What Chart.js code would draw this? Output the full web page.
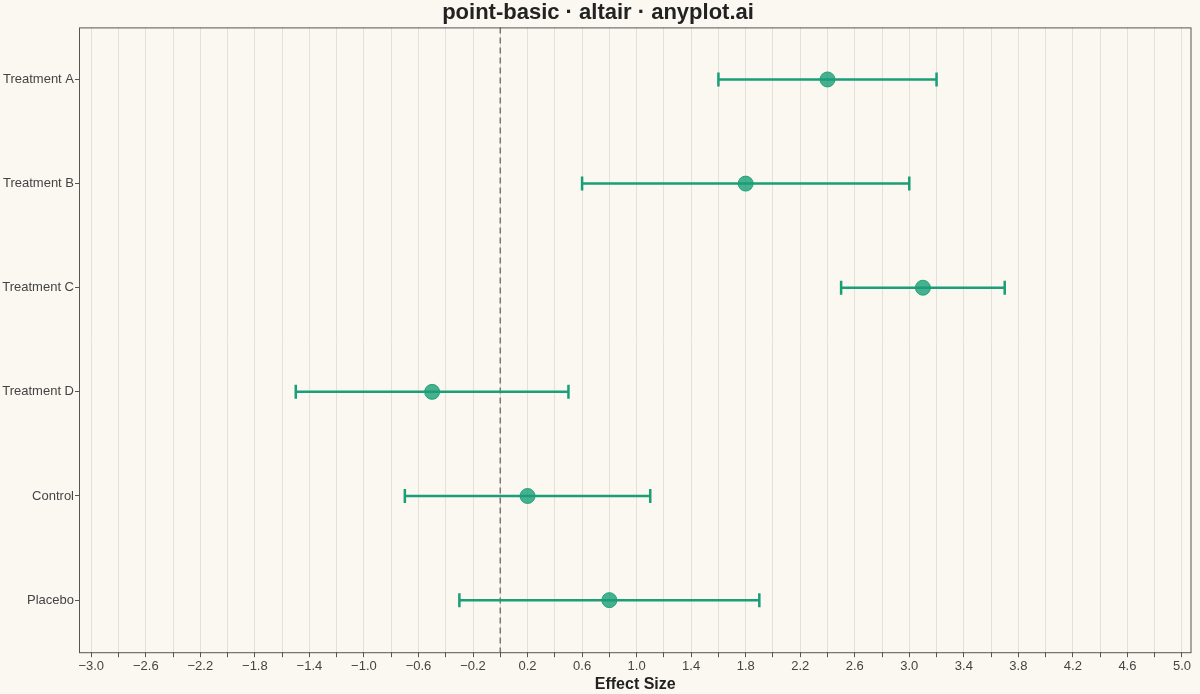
<!DOCTYPE html>
<html><head><meta charset="utf-8">
<script src="https://cdn.jsdelivr.net/npm/chart.js@4"></script>
<style>html,body{margin:0;padding:0;background:#FAF8F1;}#w{width:1200px;height:694px;}</style>
</head><body><div id="w"><canvas id="c"></canvas></div>
<script>
const categories = ["Treatment A","Treatment B","Treatment C","Treatment D","Control","Placebo"];
const effect = [2.4, 1.8, 3.1, -0.5, 0.2, 0.8];
const lower = [1.6, 0.6, 2.5, -1.5, -0.7, -0.3];
const upper = [3.2, 3.0, 3.7, 0.5, 1.1, 1.9];
const xTicks = [];
for (let i = 0; i <= 40; i++) xTicks.push(Math.round((-3 + i * 0.2) * 10) / 10);

const green = "#1a9e77";
const errPlugin = {
  id: "err",
  beforeDatasetsDraw(chart) {
    const {ctx, scales:{x, y}, chartArea:a} = chart;
    ctx.save();
    ctx.strokeStyle = "#777"; ctx.lineWidth = 1.5; ctx.setLineDash([6,4]);
    const zx = x.getPixelForValue(0);
    ctx.beginPath(); ctx.moveTo(zx, a.top); ctx.lineTo(zx, a.bottom); ctx.stroke();
    ctx.setLineDash([]);
    ctx.strokeStyle = green; ctx.lineWidth = 2.5;
    categories.forEach((c, i) => {
      const yy = y.getPixelForValue(i);
      const x1 = x.getPixelForValue(lower[i]), x2 = x.getPixelForValue(upper[i]);
      ctx.beginPath();
      ctx.moveTo(x1, yy); ctx.lineTo(x2, yy);
      ctx.moveTo(x1, yy-7); ctx.lineTo(x1, yy+7);
      ctx.moveTo(x2, yy-7); ctx.lineTo(x2, yy+7);
      ctx.stroke();
    });
    ctx.restore();
  },
  afterDraw(chart) {
    const {ctx, chartArea:a} = chart;
    ctx.save(); ctx.strokeStyle = "#555"; ctx.lineWidth = 1;
    ctx.strokeRect(a.left+0.5, a.top+0.5, a.right-a.left-1, a.bottom-a.top);
    ctx.restore();
  }
};

new Chart(document.getElementById("c"), {
  type: "scatter",
  data: { datasets: [{
    data: effect.map((v, i) => ({x: v, y: i})),
    backgroundColor: "rgba(26,158,119,0.8)",
    borderColor: "rgba(26,158,119,0.9)",
    pointRadius: 7.5, pointHoverRadius: 7.5
  }]},
  options: {
    responsive: true, maintainAspectRatio: false, animation: false,
    layout: { padding: { left: 0, right: 4, top: 0, bottom: 0 } },
    plugins: {
      legend: { display: false }, tooltip: { enabled: false },
      title: { display: true, text: "point-basic · altair · anyplot.ai", color: "#222",
        font: { family: "Liberation Sans, Arial", size: 22, weight: "bold" }, padding: { top: 0, bottom: 1 } }
    },
    scales: {
      x: {
        type: "linear", min: -3.09, max: 5.07,
        afterBuildTicks(s) { s.ticks = xTicks.map(v => ({value: v})); },
        ticks: { autoSkip: false, maxRotation: 0, color: "#444", padding: 1,
          font: { family: "Liberation Sans, Arial", size: 13 },
          callback(v, i) { return i % 2 === 0 ? (v < 0 ? "\u2212" + Math.abs(v).toFixed(1) : v.toFixed(1)) : ""; } },
        grid: { color: "#e3e1da", lineWidth: 1, drawTicks: true, tickLength: 5, tickColor: "#555" },
        border: { display: false },
        title: { display: true, text: "Effect Size", color: "#222", padding: { top: 0, bottom: 0 },
          font: { family: "Liberation Sans, Arial", size: 16, weight: "bold" } }
      },
      y: {
        type: "linear", reverse: true, min: -0.5, max: 5.5,
        afterBuildTicks(s) { s.ticks = categories.map((c, i) => ({value: i})); },
        afterFit(s) { s.width = 79; },
        ticks: { autoSkip: false, color: "#444", padding: 1,
          font: { family: "Liberation Sans, Arial", size: 13 },
          callback(v) { return categories[v]; } },
        grid: { display: true, drawOnChartArea: false, drawTicks: true, tickLength: 4, tickColor: "#555" },
        border: { display: false }
      }
    }
  },
  plugins: [errPlugin]
});
</script></body></html>
